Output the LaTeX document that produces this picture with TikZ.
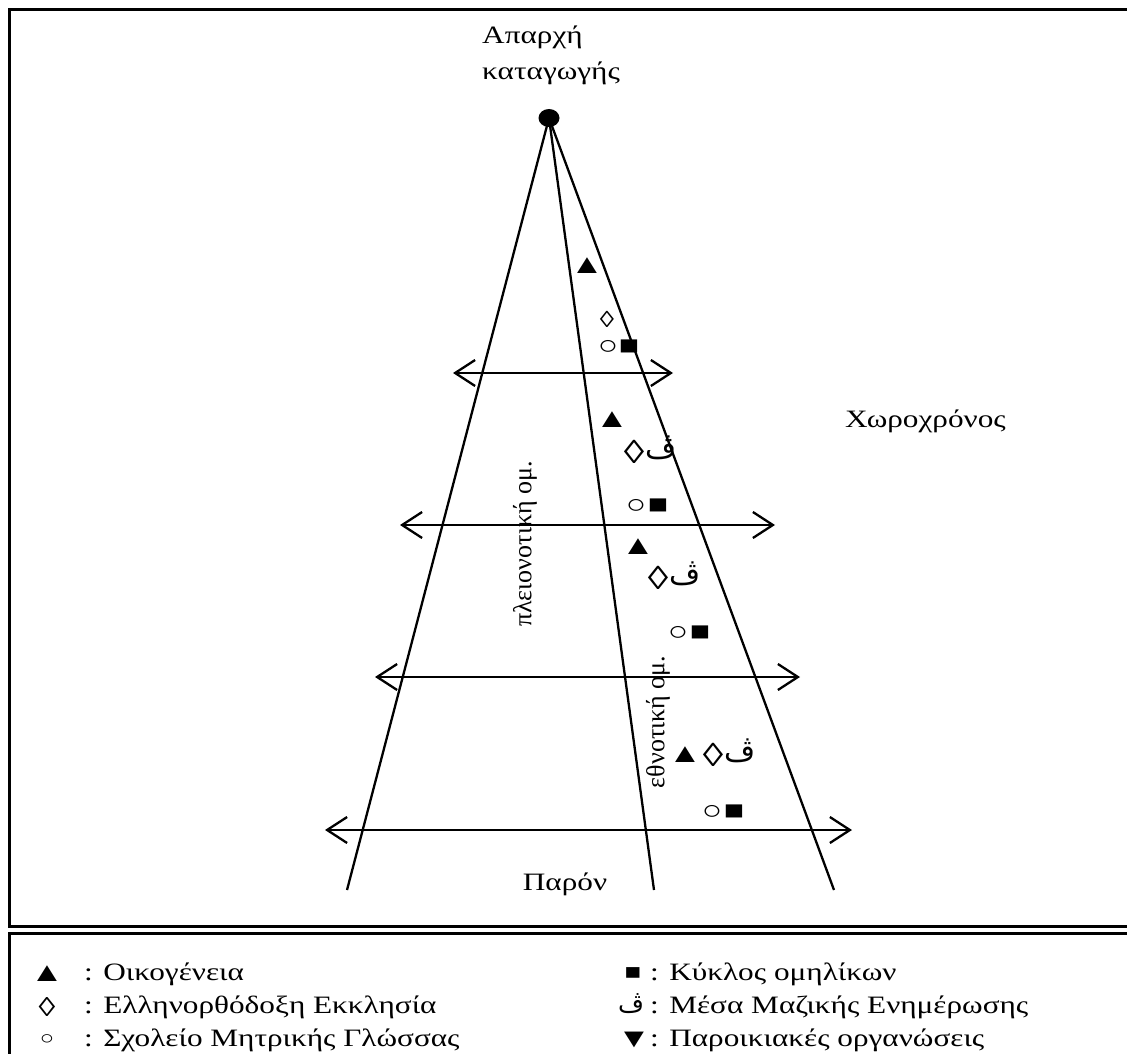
\documentclass[tikz,border=0pt]{standalone}
\usepackage{fontspec}
\setmainfont[FakeStretch=1.25]{Liberation Serif}
\newfontfamily\uprightfont{Liberation Serif}
\newfontfamily\arabicfont[Script=Arabic]{DejaVu Sans}
\TeXXeTstate=1
\usetikzlibrary{arrows.meta}
\usetikzlibrary{positioning}

\newcommand{\veh}{{\arabicfont\beginR ڤ\endR}}

\tikzset{
  frame/.style={line width=3pt},
  ray/.style={line width=2.3pt},
  span/.style={line width=2.3pt,{Straight Barb[length=20pt,width=26pt]}-{Straight Barb[length=20pt,width=26pt]}},
  sym/.style={inner sep=0pt,font=\fontsize{27}{27}\selectfont},
  lozsym/.style={inner sep=0pt,font=\fontsize{33}{33}\selectfont},
  vehsym/.style={inner sep=0pt,font=\fontsize{30}{30}\selectfont},
  lbl/.style={inner sep=0pt,font=\fontsize{25}{36}\selectfont},
  keysym/.style={inner sep=0pt,font=\fontsize{27}{27}\selectfont},
  keytext/.style={inner sep=0pt,anchor=west,font=\fontsize{25}{25}\selectfont},
}

\begin{document}
\begin{tikzpicture}[x=1pt,y=-1pt]
\useasboundingbox (0,0) rectangle (1127,1054);
\clip (0,0) rectangle (1127,1054);

\draw[frame] (9,10) rectangle (1140,926);
\draw[frame] (9,933) rectangle (1140,1070);

\coordinate (apex) at (549,118);
\coordinate (leftfoot) at (347,890);
\coordinate (midfoot) at (654,890);
\coordinate (rightfoot) at (834,890);
\foreach \f in {leftfoot,midfoot,rightfoot}
{
	\draw[ray] (apex) -- (\f);
}
\fill (apex) ellipse [x radius=10.5pt, y radius=9pt];

\coordinate (l1) at (453,373);  \coordinate (r1) at (673,373);
\coordinate (l2) at (400,525);  \coordinate (r2) at (775,525);
\coordinate (l3) at (375,677);  \coordinate (r3) at (800,677);
\coordinate (l4) at (325,830);  \coordinate (r4) at (852,830);
\foreach \i in {1,...,4}
{
	\draw[span] (l\i) -- (r\i);
}

\node[lbl,align=left,anchor=north west] (origin) at (482,26) {Απαρχή\\καταγωγής};
\node[lbl,anchor=base west] (spacetime) at (845,427) {Χωροχρόνος};
\node[lbl,anchor=base] (present) at (565,890) {Παρόν};
\node[lbl,font=\fontsize{26}{26}\uprightfont,rotate=90] (majority) at (525,544) {πλειονοτική ομ.};
\node[lbl,font=\fontsize{26}{26}\uprightfont,rotate=90] (ethnic) at (658,722) {εθνοτική ομ.};

\foreach \n/\x/\y in {tri1/587/266, tri2/612/420, tri3/638/547, tri4/685/755}
{
	\node[sym] (\n) at (\x,\y) {▲};
}
\foreach \n/\x/\y in {cir1/608/347, cir2/636/506, cir3/678/633, cir4/712/812}
{
	\node[sym] (\n) at (\x,\y) {○};
}
\foreach \n/\x/\y in {sq1/629/347, sq2/658/506, sq3/700/633, sq4/734/812}
{
	\node[sym] (\n) at (\x,\y) {■};
}
\foreach \n/\x/\y in {loz2/634/452, loz3/658/578, loz4/713/755}
{
	\node[lozsym] (\n) at (\x,\y) {◊};
}
\foreach \n/\x/\y in {veh2/661/448, veh3/685/574, veh4/740/751}
{
	\node[vehsym] (\n) at (\x,\y) {\veh};
}
\node[sym,font=\fontsize{23}{23}\selectfont] (loz1) at (607,319) {◊};

\node[keysym] (key1) at (47,974) {▲};
\node[keytext] (txt1) at (84,974) {: Οικογένεια};
\node[keysym] (key2) at (47,1007) {◊};
\node[keytext] (txt2) at (84,1007) {: Ελληνορθόδοξη Εκκλησία};
\node[keysym,font=\fontsize{19}{19}\selectfont] (key3) at (47,1040) {○};
\node[keytext] (txt3) at (84,1040) {: Σχολείο Μητρικής Γλώσσας};
\node[keysym,font=\fontsize{22}{22}\selectfont] (key4) at (633,974) {■};
\node[keytext] (txt4) at (650,974) {: Κύκλος ομηλίκων};
\node[keysym,font=\fontsize{25}{25}\selectfont] (key5) at (631,1004) {\veh};
\node[keytext] (txt5) at (650,1007) {: Μέσα Μαζικής Ενημέρωσης};
\node[keysym] (key6) at (634,1040) {▼};
\node[keytext] (txt6) at (650,1040) {: Παροικιακές οργανώσεις};

\end{tikzpicture}
\end{document}
